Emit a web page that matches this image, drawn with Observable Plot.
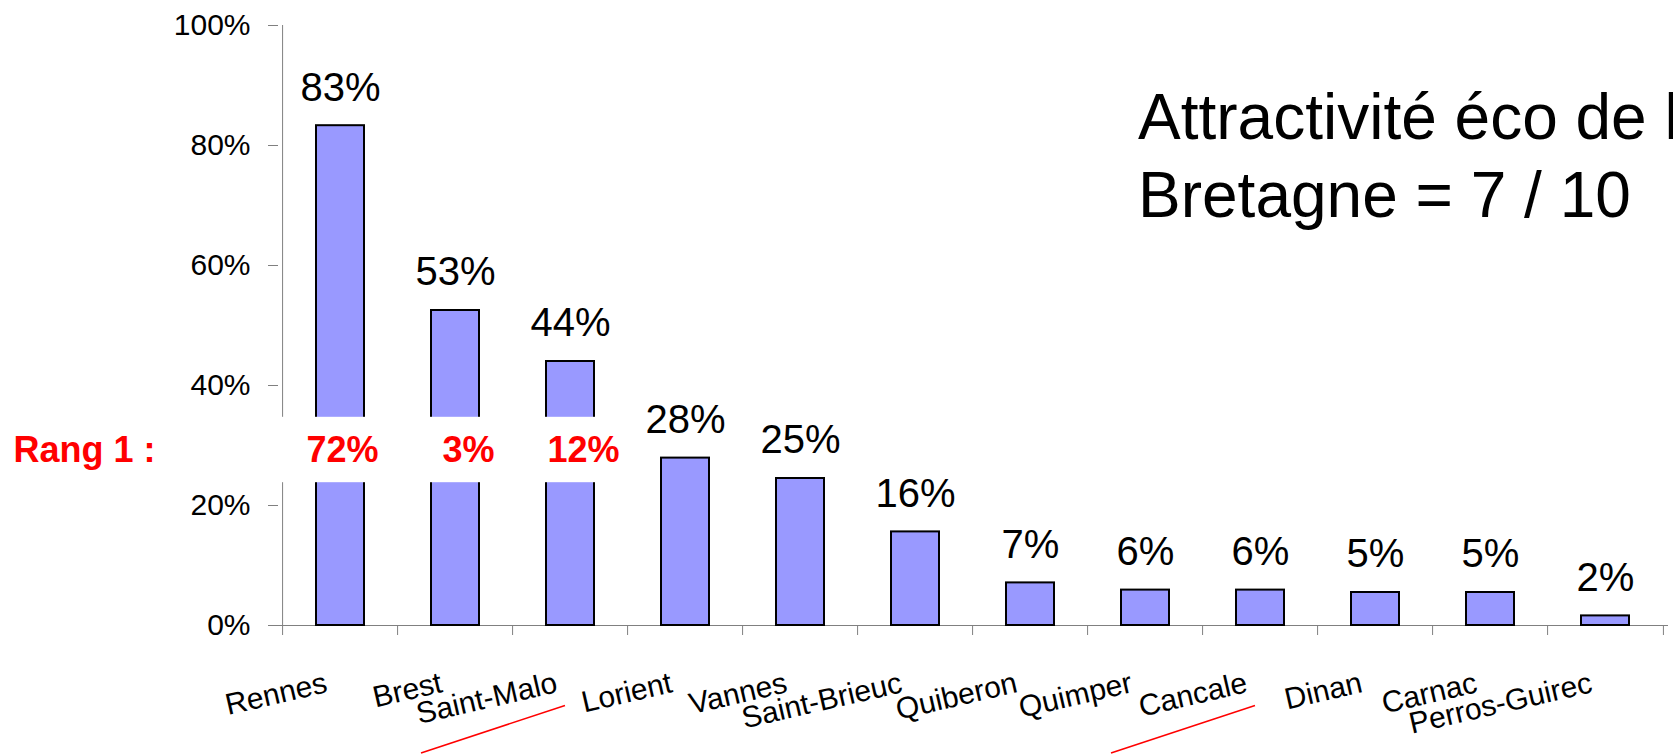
<!DOCTYPE html>
<html>
<head>
<meta charset="utf-8">
<script src="https://cdn.jsdelivr.net/npm/d3@7"></script>
<script src="https://cdn.jsdelivr.net/npm/@observablehq/plot@0.6"></script>
<style>
  html, body { margin: 0; padding: 0; background: #fff; overflow: hidden; }
  #wrap { position: relative; width: 1673px; height: 754px; overflow: hidden; font-family: "Liberation Sans", Arial, sans-serif; }
  #title { position: absolute; left: 1138px; top: 78px; font-size: 64px; line-height: 78px; color: #000; white-space: nowrap; }
</style>
</head>
<body>
<div id="wrap">
  <div id="chart"></div>
  <div id="title">Attractivité éco de la<br>Bretagne = 7 / 10</div>
</div>
<script>
// ---- data ----
const cities = ["Rennes", "Brest", "Saint-Malo", "Lorient", "Vannes", "Saint-Brieuc",
  "Quiberon", "Quimper", "Cancale", "Dinan", "Carnac", "Perros-Guirec"];
const values = [0.833, 0.525, 0.44, 0.279, 0.245, 0.156, 0.071, 0.059, 0.059, 0.055, 0.055, 0.016];
const valueLabels = ["83%", "53%", "44%", "28%", "25%", "16%", "7%", "6%", "6%", "5%", "5%", "2%"];
const yTicks = [0, 0.2, 0.4, 0.6, 0.8, 1.0];
const rank1Title = "Rang 1 :";
const rank1Cities = ["Rennes", "Brest", "Saint-Malo"];
const rank1Labels = ["72%", "3%", "12%"];
const rank1Level = 0.291;
const rank1Band = [0.238, 0.347];
const underlined = ["Saint-Malo", "Cancale"];

const data = cities.map((c, i) => ({city: c, value: values[i], label: valueLabels[i]}));
const rank1 = rank1Cities.map((c, i) => ({city: c, label: rank1Labels[i], y: rank1Level}));

const W = 1673, H = 754, mL = 278, mR = 5, mT = 25, mB = 129;
const step = (W - mL - mR) / cities.length;
const font = "Liberation Sans, Arial, sans-serif";
const rank1Shift = [2, 13, 13];

const plot = Plot.plot({
  width: W, height: H,
  marginLeft: mL, marginRight: mR, marginTop: mT, marginBottom: mB,
  style: {fontFamily: font, background: "#fff", color: "#000", overflow: "visible"},
  x: {domain: cities, paddingInner: 0.58, paddingOuter: 0.29, label: null},
  y: {domain: [0, 1], label: null},
  marks: [
    Plot.axisY({ticks: yTicks, tickFormat: d3.format(".0%"), tickSize: 10, tickPadding: 18,
      fontSize: 30, stroke: "#808080", fill: "#000", label: null}),
    Plot.ruleX([cities[0]], {x: d => d, y1: 0, y2: 1, dx: -step / 2, stroke: "#808080"}),
    Plot.axisX({ticks: cities, tickSize: 10, tickFormat: () => "", dx: -step / 2, stroke: "#808080", label: null}),
    Plot.axisX({ticks: [cities[cities.length - 1]], tickSize: 10, tickFormat: () => "", dx: step / 2, stroke: "#808080", label: null}),
    Plot.ruleY([0], {stroke: "#808080"}),
    Plot.barY(data, {x: "city", y: "value", fill: "#9999FF", stroke: "#000", strokeWidth: 2}),
    Plot.barY(rank1Cities, {x: d => d, y1: rank1Band[0], y2: rank1Band[1], fill: "#fff",
      insetLeft: -36, insetRight: -34}),
    Plot.text(data, {x: "city", y: "value", text: "label", fontSize: 40, fill: "#000",
      lineAnchor: "middle", dy: -38}),
    ...rank1.map((d, i) => Plot.text([d], {x: "city", y: "y", text: "label", fontSize: 36, fontWeight: "bold",
      fill: "#FF0000", lineAnchor: "middle", dx: rank1Shift[i]})),
    Plot.text([{t: rank1Title, y: rank1Level}], {y: "y", text: "t", frameAnchor: "left",
      textAnchor: "start", dx: -265, fontSize: 36, fontWeight: "bold", fill: "#FF0000", lineAnchor: "middle"}),
    Plot.text(cities, {x: d => d, text: d => d, frameAnchor: "bottom", rotate: -13,
      textAnchor: "end", lineAnchor: "middle", dx: -14, dy: 57, fontSize: 30, fill: "#000"})
  ]
});

document.getElementById("chart").appendChild(plot);

// red hand-drawn underlines beneath two labels, placed with the plot's own scales
const xs = plot.scale("x"), ys = plot.scale("y");
const y0 = ys.apply(0);
const svg = d3.select(plot);
underlined.forEach(c => {
  const cx = xs.apply(c) + xs.bandwidth / 2;
  svg.append("line")
    .attr("x1", cx - 5).attr("y1", y0 + 80.5)
    .attr("x2", cx - 149).attr("y2", y0 + 128)
    .attr("stroke", "#FF0000").attr("stroke-width", 1.5);
});
</script>
</body>
</html>
